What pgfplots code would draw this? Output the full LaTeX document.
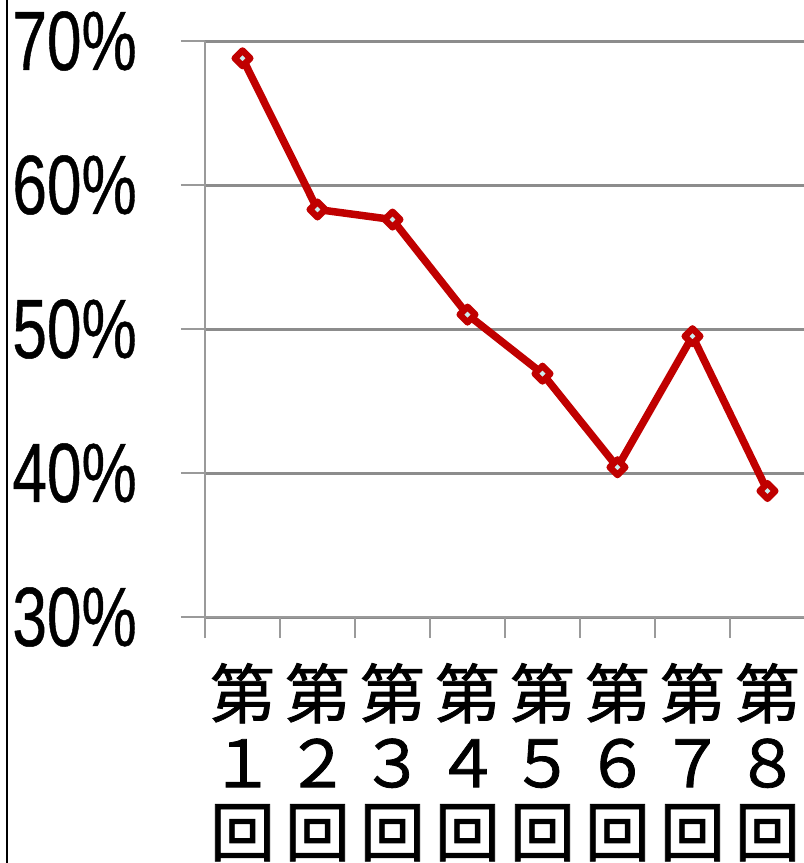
\documentclass[border=0pt]{standalone}
\usepackage{graphicx}
\usepackage{fontspec}
\setmainfont{Liberation Sans}[FakeBold=0.6]
\newfontfamily\cjk{Noto Sans CJK JP}[FakeBold=1.2]
\usepackage{pgfplots}
\pgfplotsset{compat=1.18}
\definecolor{linered}{HTML}{C00000}
\definecolor{gridgray}{HTML}{8C8C8C}
\definecolor{axgray}{HTML}{9A9A9A}
\definecolor{markfill}{HTML}{CCEEF0}
\begin{document}
\begin{tikzpicture}
\begin{axis}[
    name=ax,
    at={(0pt,0pt)}, anchor=south west,
    width=600pt, height=576pt,
    scale only axis,
    xmin=-0.5, xmax=7.5,
    ymin=30, ymax=70,
    axis x line*=bottom,
    axis y line*=left,
    axis line style={draw=axgray, line width=2pt},
    tick align=outside,
    major tick length=24pt,
    minor tick length=21pt,
    xtick={0,...,7},
    xticklabels={{第\\１\\回},{第\\２\\回},{第\\３\\回},{第\\４\\回},{第\\５\\回},{第\\６\\回},{第\\７\\回},{第\\８\\回}},
    minor xtick={-0.5,0.5,...,7.5},
    xtick style={draw=none},
    minor x tick style={draw=axgray, line width=2pt},
    xticklabel style={align=center, anchor=north, inner sep=0pt, yshift=-22pt,
        font=\cjk\fontsize{65}{69}\selectfont},
    ytick={30,40,50,60,70},
    yticklabel={\scalebox{0.74}[1]{\pgfmathprintnumber{\tick}\%}},
    /pgf/number format/assume math mode=true,
    ytick style={draw=axgray, line width=2pt},
    yticklabel style={anchor=east, inner sep=0pt, xshift=-44pt,
        font=\fontsize{84}{84}\selectfont},
    ymajorgrids,
    y grid style={draw=gridgray, line width=3pt},
    clip=false,
]
\addplot[color=linered, line width=7.5pt, line join=round,
    mark=square*, mark size=5.5pt,
    mark options={rotate=45, draw=linered, fill=markfill, line width=6.5pt, line join=round}]
coordinates {
(0,68.8) (1,58.3) (2,57.6) (3,51.0) (4,46.9) (5,40.4) (6,49.5) (7,38.75)
};
\end{axis}
\draw[black, line width=2pt] (-198pt,-246pt) -- (-198pt,617pt);
\pgfresetboundingbox
\path[use as bounding box] (-205pt,-246pt) rectangle (599pt,617pt);
\end{tikzpicture}
\end{document}
